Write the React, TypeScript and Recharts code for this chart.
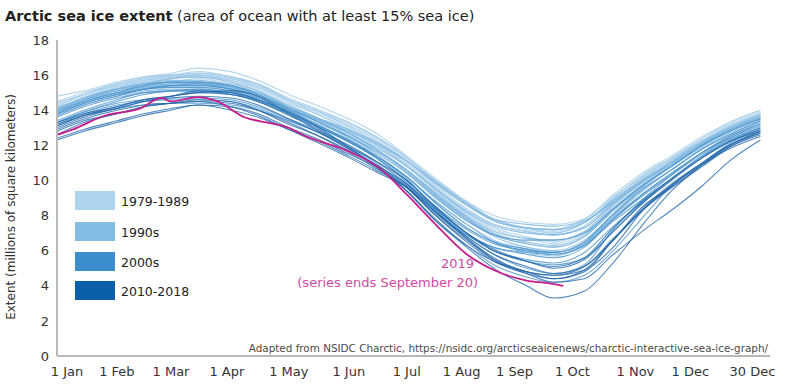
import React from "react";
import { LineChart, Line, XAxis, YAxis } from "recharts";

/** Sample days (day of year) shared by the 1979-2018 series */
const DAYS = [1, 15, 32, 46, 60, 74, 91, 105, 121, 135, 152, 166, 182, 196, 213, 227, 244, 258, 274, 288, 305, 319, 335, 349, 365];

// extent, millions of km² at DAYS
const Y1979 = [14.8, 15.1, 15.6, 15.9, 16.1, 16.4, 16.2, 15.7, 14.9, 14.3, 13.5, 12.7, 11.4, 10.2, 8.8, 7.8, 7.3, 7.0, 7.6, 8.9, 10.4, 11.3, 12.4, 13.3, 14.0];
const Y1980 = [14.2, 14.9, 15.4, 15.8, 16.0, 16.1, 15.9, 15.5, 14.6, 14.0, 13.3, 12.5, 11.3, 10.1, 8.8, 8.0, 7.6, 7.5, 7.8, 9.1, 10.5, 11.4, 12.5, 13.3, 14.0];
const Y1981 = [14.1, 14.7, 15.2, 15.5, 15.6, 15.8, 15.5, 15.0, 14.3, 13.6, 12.9, 12.1, 10.9, 9.7, 8.3, 7.5, 7.1, 6.9, 7.3, 8.6, 10.0, 11.0, 12.1, 13.0, 13.7];
const Y1982 = [14.4, 14.9, 15.5, 15.9, 16.0, 16.2, 15.9, 15.4, 14.6, 14.0, 13.1, 12.4, 11.2, 10.1, 8.7, 7.8, 7.3, 7.2, 7.8, 9.0, 10.3, 11.3, 12.3, 13.1, 13.8];
const Y1983 = [14.3, 14.8, 15.3, 15.6, 15.8, 16.0, 15.7, 15.3, 14.5, 13.9, 13.1, 12.3, 11.1, 9.9, 8.6, 7.8, 7.3, 7.2, 7.7, 8.8, 10.2, 11.2, 12.2, 13.1, 13.8];
const Y1984 = [14.1, 14.6, 15.0, 15.4, 15.6, 15.6, 15.4, 15.0, 14.3, 13.6, 12.8, 12.0, 10.8, 9.5, 8.1, 7.2, 6.7, 6.4, 7.0, 8.3, 9.8, 10.8, 12.0, 12.9, 13.6];
const Y1985 = [14.5, 15.0, 15.5, 15.8, 16.0, 16.0, 15.8, 15.3, 14.5, 13.8, 12.9, 12.1, 10.9, 9.6, 8.2, 7.3, 6.8, 6.5, 7.1, 8.4, 9.9, 10.9, 12.1, 13.0, 13.7];
const Y1986 = [14.2, 14.7, 15.3, 15.7, 15.9, 16.0, 15.8, 15.4, 14.6, 14.0, 13.2, 12.5, 11.3, 10.0, 8.6, 7.7, 7.3, 7.1, 7.6, 8.9, 10.3, 11.2, 12.3, 13.2, 13.9];
const Y1987 = [14.4, 14.9, 15.4, 15.7, 15.9, 15.9, 15.7, 15.2, 14.4, 13.8, 13.0, 12.2, 11.0, 9.8, 8.4, 7.5, 7.1, 6.9, 7.4, 8.7, 10.1, 11.1, 12.2, 13.0, 13.8];
const Y1988 = [14.0, 14.6, 15.2, 15.6, 15.9, 16.1, 15.9, 15.5, 14.7, 14.1, 13.3, 12.5, 11.3, 10.0, 8.6, 7.7, 7.2, 7.0, 7.6, 8.8, 10.2, 11.2, 12.2, 13.1, 13.8];
const Y1989 = [14.1, 14.6, 15.0, 15.4, 15.5, 15.6, 15.5, 15.1, 14.3, 13.6, 12.8, 12.0, 10.8, 9.6, 8.3, 7.5, 7.1, 6.9, 7.4, 8.7, 10.1, 11.0, 12.1, 13.0, 13.6];

const Y1990 = [14.0, 14.6, 15.1, 15.5, 15.8, 15.9, 15.6, 15.1, 14.2, 13.5, 12.6, 11.8, 10.5, 9.2, 7.8, 6.8, 6.2, 6.0, 6.6, 8.0, 9.7, 10.8, 12.0, 12.8, 13.6];
const Y1991 = [14.0, 14.5, 15.0, 15.3, 15.5, 15.6, 15.4, 14.9, 14.1, 13.5, 12.7, 11.8, 10.6, 9.3, 7.9, 7.0, 6.5, 6.3, 6.9, 8.3, 9.8, 10.8, 12.0, 12.8, 13.5];
const Y1992 = [13.9, 14.5, 15.0, 15.3, 15.5, 15.5, 15.3, 14.9, 14.2, 13.6, 12.9, 12.2, 11.1, 9.9, 8.6, 7.7, 7.3, 7.2, 7.6, 8.8, 10.1, 11.1, 12.2, 13.0, 13.7];
const Y1993 = [14.1, 14.7, 15.2, 15.5, 15.7, 15.7, 15.4, 14.9, 14.1, 13.4, 12.5, 11.7, 10.5, 9.2, 7.8, 6.9, 6.4, 6.2, 6.8, 8.2, 9.8, 10.9, 12.0, 12.9, 13.6];
const Y1994 = [14.0, 14.6, 15.1, 15.4, 15.6, 15.5, 15.3, 14.8, 14.1, 13.5, 12.7, 11.9, 10.8, 9.6, 8.2, 7.4, 7.0, 6.9, 7.3, 8.6, 10.0, 11.0, 12.1, 12.9, 13.6];
const Y1995 = [13.8, 14.4, 14.9, 15.2, 15.3, 15.3, 15.1, 14.6, 13.8, 13.1, 12.3, 11.4, 10.2, 8.9, 7.5, 6.6, 6.1, 5.9, 6.5, 7.9, 9.5, 10.6, 11.8, 12.7, 13.4];
const Y1996 = [13.7, 14.3, 14.8, 15.1, 15.2, 15.2, 15.0, 14.7, 14.0, 13.5, 12.8, 12.1, 11.1, 10.0, 8.7, 7.8, 7.5, 7.4, 7.7, 8.7, 10.0, 10.9, 12.0, 12.8, 13.5];
const Y1997 = [14.0, 14.6, 15.2, 15.5, 15.6, 15.6, 15.3, 14.8, 14.0, 13.3, 12.5, 11.7, 10.6, 9.4, 8.0, 7.1, 6.7, 6.6, 7.1, 8.5, 10.0, 11.0, 12.1, 12.9, 13.6];
const Y1998 = [14.1, 14.7, 15.2, 15.5, 15.6, 15.6, 15.4, 15.0, 14.2, 13.6, 12.7, 11.8, 10.6, 9.3, 7.9, 6.9, 6.4, 6.2, 6.8, 8.2, 9.7, 10.8, 11.9, 12.8, 13.5];
const Y1999 = [13.9, 14.5, 15.0, 15.3, 15.4, 15.4, 15.2, 14.8, 14.0, 13.4, 12.4, 11.5, 10.2, 8.9, 7.5, 6.5, 5.9, 5.7, 6.4, 7.9, 9.5, 10.6, 11.8, 12.6, 13.4];

const Y2000 = [13.8, 14.4, 14.9, 15.2, 15.3, 15.3, 15.1, 14.6, 13.8, 13.1, 12.2, 11.4, 10.2, 8.8, 7.3, 6.5, 6.1, 5.9, 6.5, 8.0, 9.6, 10.6, 11.8, 12.6, 13.4];
const Y2001 = [13.9, 14.5, 15.0, 15.4, 15.6, 15.6, 15.4, 14.9, 14.1, 13.4, 12.5, 11.6, 10.4, 9.1, 7.7, 6.9, 6.6, 6.6, 7.0, 8.3, 9.8, 10.8, 12.0, 12.8, 13.5];
const Y2002 = [13.7, 14.3, 14.8, 15.2, 15.4, 15.4, 15.2, 14.8, 14.0, 13.2, 12.2, 11.3, 10.0, 8.5, 7.0, 6.2, 5.8, 5.6, 6.2, 7.7, 9.3, 10.4, 11.6, 12.5, 13.3];
const Y2003 = [13.8, 14.4, 14.9, 15.2, 15.4, 15.5, 15.2, 14.7, 13.9, 13.2, 12.3, 11.4, 10.2, 8.8, 7.3, 6.5, 6.0, 5.9, 6.4, 7.8, 9.3, 10.4, 11.6, 12.5, 13.2];
const Y2004 = [13.6, 14.2, 14.7, 15.0, 15.1, 15.1, 14.9, 14.5, 13.8, 13.1, 12.2, 11.3, 10.0, 8.6, 7.2, 6.4, 6.0, 5.8, 6.3, 7.7, 9.2, 10.3, 11.5, 12.4, 13.2];
const Y2005 = [13.3, 13.9, 14.4, 14.6, 14.7, 14.7, 14.6, 14.2, 13.5, 12.9, 12.0, 11.1, 9.8, 8.4, 6.9, 6.0, 5.5, 5.3, 5.9, 7.3, 8.9, 10.1, 11.3, 12.2, 13.0];
const Y2006 = [13.1, 13.7, 14.1, 14.3, 14.4, 14.4, 14.3, 14.0, 13.4, 12.8, 12.0, 11.1, 9.8, 8.4, 6.9, 6.2, 5.9, 5.8, 6.3, 7.6, 9.0, 10.1, 11.4, 12.3, 13.0];
const Y2007 = [13.2, 13.8, 14.3, 14.5, 14.6, 14.6, 14.5, 14.1, 13.4, 12.8, 11.9, 11.0, 9.4, 7.8, 6.3, 5.2, 4.5, 4.2, 4.6, 5.9, 8.0, 9.7, 11.0, 12.1, 12.9];
const Y2008 = [13.3, 13.9, 14.5, 14.9, 15.1, 15.2, 15.0, 14.5, 13.8, 13.1, 12.2, 11.3, 9.9, 8.3, 6.8, 5.8, 5.0, 4.7, 5.2, 7.1, 9.0, 10.3, 11.6, 12.4, 13.1];
const Y2009 = [13.4, 14.0, 14.6, 15.0, 15.1, 15.1, 14.9, 14.6, 13.9, 13.2, 12.3, 11.4, 10.1, 8.5, 7.0, 6.0, 5.4, 5.2, 5.6, 7.0, 8.8, 10.1, 11.4, 12.3, 13.0];

const Y2010 = [13.0, 13.6, 14.1, 14.5, 14.8, 15.0, 15.1, 14.8, 13.8, 12.9, 11.8, 10.9, 9.7, 8.3, 6.8, 5.8, 5.1, 4.7, 5.1, 6.6, 8.4, 9.6, 10.9, 11.9, 12.6];
const Y2011 = [12.6, 13.3, 13.8, 14.2, 14.4, 14.6, 14.5, 14.0, 13.2, 12.6, 11.7, 10.8, 9.4, 7.9, 6.3, 5.4, 4.8, 4.4, 4.8, 6.5, 8.4, 9.7, 11.0, 12.0, 12.8];
const Y2012 = [13.1, 13.7, 14.2, 14.6, 14.8, 15.1, 15.0, 14.6, 13.9, 13.1, 11.9, 10.8, 9.4, 7.8, 6.2, 5.0, 4.0, 3.3, 3.7, 5.2, 7.6, 9.4, 10.9, 12.0, 12.8];
const Y2013 = [13.3, 13.8, 14.2, 14.6, 14.8, 15.0, 14.9, 14.5, 13.7, 13.0, 11.9, 11.1, 10.0, 8.6, 7.0, 6.1, 5.4, 5.1, 5.6, 7.2, 8.9, 10.1, 11.3, 12.2, 12.9];
const Y2014 = [13.2, 13.7, 14.1, 14.5, 14.7, 14.8, 14.7, 14.3, 13.5, 12.8, 11.8, 10.9, 9.8, 8.5, 7.0, 6.0, 5.4, 5.0, 5.5, 7.0, 8.8, 10.0, 11.3, 12.2, 12.8];
const Y2015 = [12.9, 13.5, 14.0, 14.3, 14.4, 14.5, 14.4, 14.0, 13.3, 12.6, 11.6, 10.7, 9.6, 8.1, 6.5, 5.4, 4.7, 4.4, 4.9, 6.5, 8.5, 9.8, 11.0, 12.0, 12.7];
const Y2016 = [12.8, 13.4, 13.8, 14.2, 14.4, 14.5, 14.2, 13.7, 12.9, 12.2, 11.3, 10.5, 9.6, 8.3, 6.7, 5.5, 4.7, 4.2, 4.4, 5.7, 7.2, 8.3, 9.7, 11.1, 12.3];
const Y2017 = [12.4, 12.9, 13.4, 13.8, 14.1, 14.3, 14.2, 13.8, 13.0, 12.4, 11.5, 10.8, 9.6, 8.1, 6.6, 5.5, 4.8, 4.6, 5.1, 6.5, 8.6, 9.6, 10.8, 11.9, 12.7];
const Y2018 = [12.3, 12.8, 13.3, 13.7, 14.0, 14.3, 14.0, 13.6, 12.9, 12.3, 11.4, 10.6, 9.6, 8.2, 6.7, 5.6, 4.8, 4.6, 4.9, 6.1, 8.4, 9.7, 10.9, 11.8, 12.5];

/** 2019 has its own sample days (series ends September 20) */
const DAYS_2019 = [1, 9, 26, 44, 55, 60, 74, 84, 98, 112, 121, 128, 151, 168, 182, 196, 213, 227, 244, 255, 263];
const Y2019 = [12.6, 12.9, 13.7, 14.1, 14.7, 14.5, 14.75, 14.5, 13.6, 13.25, 13.0, 12.6, 11.7, 10.7, 9.2, 7.6, 5.8, 4.9, 4.3, 4.15, 4.0];

const YEARS: [number, number[]][] = [
  [1979, Y1979], [1980, Y1980], [1981, Y1981], [1982, Y1982], [1983, Y1983], [1984, Y1984],
  [1985, Y1985], [1986, Y1986], [1987, Y1987], [1988, Y1988], [1989, Y1989],
  [1990, Y1990], [1991, Y1991], [1992, Y1992], [1993, Y1993], [1994, Y1994],
  [1995, Y1995], [1996, Y1996], [1997, Y1997], [1998, Y1998], [1999, Y1999],
  [2000, Y2000], [2001, Y2001], [2002, Y2002], [2003, Y2003], [2004, Y2004],
  [2005, Y2005], [2006, Y2006], [2007, Y2007], [2008, Y2008], [2009, Y2009],
  [2010, Y2010], [2011, Y2011], [2012, Y2012], [2013, Y2013], [2014, Y2014],
  [2015, Y2015], [2016, Y2016], [2017, Y2017], [2018, Y2018],
];

/** Axis ticks */
const X_TICKS = [1, 32, 60, 91, 121, 152, 182, 213, 244, 274, 305, 335, 364];
const X_LABELS = ["1 Jan", "1 Feb", "1 Mar", "1 Apr", "1 May", "1 Jun", "1 Jul", "1 Aug", "1 Sep", "1 Oct", "1 Nov", "1 Dec", "30 Dec"];
const Y_TICKS = [0, 2, 4, 6, 8, 10, 12, 14, 16, 18];

/** Legend */
const DECADES = ["1979-1989", "1990s", "2000s", "2010-2018"];
const DECADE_COLORS = ["#aed3ec", "#84bce3", "#3b8dcb", "#0b5ea8"];
const LINE_COLORS = ["#a3cce9", "#7ab4de", "#4a94cc", "#2368ab"];
const PINK = "#c81e8c";
const FONT = "'DejaVu Sans', Verdana, sans-serif";

// small label nudges so the month labels sit where the original put them
const TICK_NUDGE: Record<number, number> = { 1: 10, 91: -4, 213: -5, 244: -12, 274: -12, 305: -9, 335: -12, 364: -6 };

const decadeOf = (y: number) => (y < 1990 ? 0 : y < 2000 ? 1 : y < 2010 ? 2 : 3);

const rows = DAYS.map((day, i) => {
  const r: Record<string, number> = { day };
  YEARS.forEach(([yr, vals]) => {
    r[`y${yr}`] = vals[i];
  });
  return r;
});
const rows2019 = DAYS_2019.map((day, i) => ({ day, y2019: Y2019[i] }));

const MonthTick = (props: any) => {
  const { x, y, payload } = props;
  const idx = X_TICKS.indexOf(payload.value);
  const dx = TICK_NUDGE[payload.value] ?? 0;
  return (
    <text x={x + dx} y={y} dy="0.71em" textAnchor="middle" fontSize={13} fontFamily={FONT} fill="#333">
      {X_LABELS[idx]}
    </text>
  );
};

export default function App() {
  return (
    <div style={{ position: "relative", width: 787, height: 384, background: "#fff" }}>
      <style>{`body{margin:0;background:#fff}`}</style>
      <LineChart
        width={787}
        height={384}
        data={rows}
        margin={{ top: 40, right: 17, bottom: 0, left: 0 }}
      >
        <XAxis
          dataKey="day"
          type="number"
          domain={[1, 370]}
          ticks={X_TICKS}
          allowDataOverflow
          height={28}
          tickLine={false}
          tickMargin={5}
          axisLine={{ stroke: "#b8b8b8", strokeWidth: 2 }}
          tick={<MonthTick />}
        />
        <YAxis
          type="number"
          domain={[0, 18]}
          ticks={Y_TICKS}
          width={57}
          tickLine={false}
          axisLine={{ stroke: "#b8b8b8", strokeWidth: 2 }}
          tick={{ fontSize: 13, fontFamily: FONT, fill: "#333" }}
        />
        {YEARS.map(([yr]) => (
          <Line
            key={yr}
            type="monotone"
            dataKey={`y${yr}`}
            stroke={LINE_COLORS[decadeOf(yr)]}
            strokeWidth={1.1}
            strokeOpacity={0.8}
            dot={false}
            activeDot={false}
            isAnimationActive={false}
          />
        ))}
        <Line
          data={rows2019}
          type="monotone"
          dataKey="y2019"
          stroke={PINK}
          strokeWidth={1.8}
          dot={false}
          activeDot={false}
          isAnimationActive={false}
        />
      </LineChart>

      <svg
        width={787}
        height={384}
        style={{ position: "absolute", left: 0, top: 0, pointerEvents: "none" }}
        fontFamily={FONT}
      >
        <text x={5} y={21} fontSize={14.5} fill="#222">
          <tspan fontWeight="bold">Arctic sea ice extent</tspan>
          <tspan> (area of ocean with at least 15% sea ice)</tspan>
        </text>
        <text transform="translate(15,207) rotate(-90)" textAnchor="middle" fontSize={12} fill="#333">
          Extent (millions of square kilometers)
        </text>
        {DECADES.map((d, i) => {
          const top = [191, 222, 252, 281][i];
          return (
            <g key={d}>
              <rect x={75} y={top} width={40} height={19} fill={DECADE_COLORS[i]} />
              <text x={121} y={top + 14.5} fontSize={12.5} fill="#222">{d}</text>
            </g>
          );
        })}
        <text x={474} y={268} textAnchor="end" fontSize={13} fill="#d04aa6">2019</text>
        <text x={478} y={287} textAnchor="end" fontSize={13} fill="#d04aa6">(series ends September 20)</text>
        <text x={768} y={352} textAnchor="end" fontSize={10.4} fill="#4a4a4a">
          Adapted from NSIDC Charctic, https://nsidc.org/arcticseaicenews/charctic-interactive-sea-ice-graph/
        </text>
      </svg>
    </div>
  );
}
